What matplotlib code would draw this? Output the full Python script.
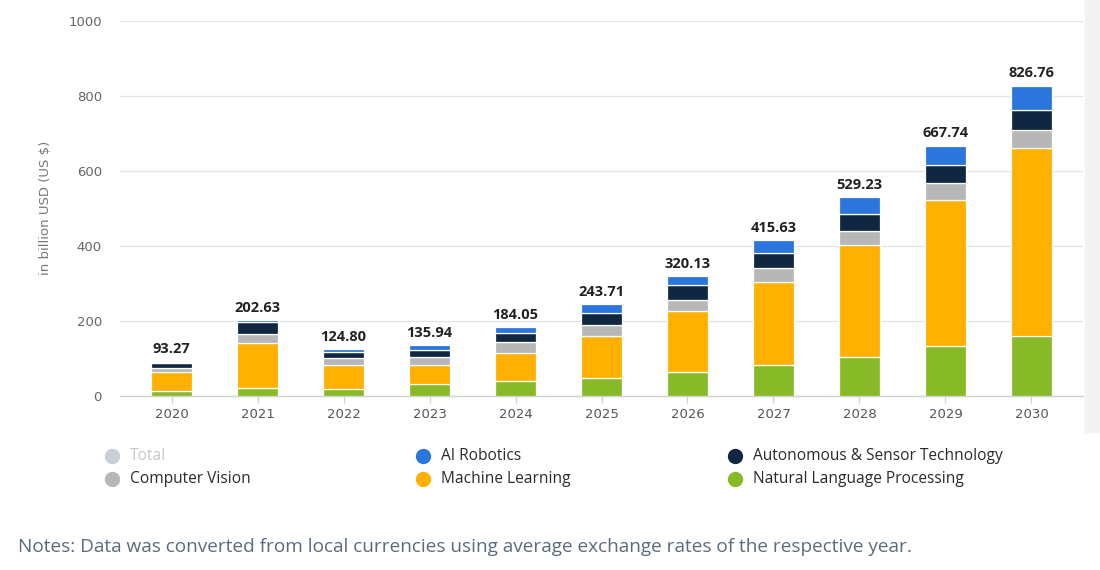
import matplotlib
matplotlib.use("Agg")
import matplotlib.pyplot as plt
from matplotlib.lines import Line2D
from matplotlib.patches import Rectangle
import numpy as np

plt.rcParams['font.family'] = ['Open Sans', 'DejaVu Sans']

years = ["2020", "2021", "2022", "2023", "2024", "2025", "2026", "2027", "2028", "2029", "2030"]
totals = [93.27, 202.63, 124.80, 135.94, 184.05, 243.71, 320.13, 415.63, 529.23, 667.74, 826.76]
nlp = [13, 20.7, 17.7, 31.7, 38.7, 47, 64.7, 83, 104, 132, 159]
machine_learning = [50, 120, 65, 51, 77, 113, 161, 221, 299, 390, 503]
computer_vision = [12, 24, 18, 21, 27, 30, 31, 38, 37, 45, 48]
autonomous = [12, 32.6, 16, 19, 25, 30, 38, 38, 44, 48, 53]
ai_robotics = [0, 6, 9, 14, 16, 24, 25, 35, 47, 52, 64]

series = [
    ("Natural Language Processing", nlp, "#88b927"),
    ("Machine Learning", machine_learning, "#ffb000"),
    ("Computer Vision", computer_vision, "#b7b7b7"),
    ("Autonomous & Sensor Technology", autonomous, "#0f2740"),
    ("AI Robotics", ai_robotics, "#2b76dc"),
]

fig = plt.figure(figsize=(11, 5.7), dpi=100)
fig.patches.append(Rectangle((1085/1100, (570-432)/570), 15/1100, 432/570,
                             transform=fig.transFigure, color="#f3f3f3", zorder=0))
ax = fig.add_axes([120/1100, (570-396)/570, (1083-120)/1100, (396-20.7)/570])

x = np.arange(len(years))
bottom = np.zeros(len(years))
for name, vals, col in series:
    v = np.array(vals, dtype=float)
    ax.bar(x, v, bottom=bottom, width=0.47, color=col, edgecolor="white", linewidth=0.9, zorder=3)
    bottom += v

for xi, t in zip(x, totals):
    ax.annotate(f"{t:.2f}", (xi, t), xytext=(0, 6), textcoords="offset points",
                ha="center", va="baseline", fontsize=10.5, fontweight="bold", color="#222222", zorder=4)

ax.set_xlim(-0.6, 10.6)
ax.set_ylim(0, 1000)
ax.set_yticks([0, 200, 400, 600, 800, 1000])
ax.set_xticks(x)
ax.set_xticklabels(years)
ax.grid(axis="y", color="#e4e4e4", linewidth=0.9, zorder=0)
ax.set_axisbelow(True)
for s in ["top", "right", "left"]:
    ax.spines[s].set_visible(False)
ax.spines["bottom"].set_color("#ccd1d6")
ax.spines["bottom"].set_linewidth(1.0)
ax.tick_params(axis="y", length=0, pad=13, labelsize=9.5, labelcolor="#666666")
ax.tick_params(axis="x", length=5, width=0.9, color="#ccd1d6", pad=4, labelsize=9.5, labelcolor="#555555")
for lab in ax.get_xticklabels() + ax.get_yticklabels():
    lab.set_fontfamily("DejaVu Sans")
ax.set_ylabel("in billion USD (US $)", fontsize=9.5, color="#777777", family="DejaVu Sans")
ax.yaxis.set_label_coords(-68/963, 0.5)

# legend
legend_items = [
    ("Total", "#c9ced4", "#c4c9cf", 112, 456),
    ("AI Robotics", "#2b76dc", "#2a2a2a", 423, 456),
    ("Autonomous & Sensor Technology", "#0f2740", "#2a2a2a", 735, 456),
    ("Computer Vision", "#b7b7b7", "#2a2a2a", 112, 479),
    ("Machine Learning", "#ffb000", "#2a2a2a", 423, 479),
    ("Natural Language Processing", "#88b927", "#2a2a2a", 735, 479),
]
for label, mcol, tcol, px, py in legend_items:
    fx, fy = px / 1100, (570 - py) / 570
    fig.add_artist(Line2D([fx], [fy], marker="o", markersize=10, color=mcol,
                          linestyle="none", transform=fig.transFigure))
    fig.text(fx + 18/1100, fy, label, fontsize=11.2, color=tcol, va="center", ha="left")

fig.text(18/1100, (570-547)/570,
         "Notes: Data was converted from local currencies using average exchange rates of the respective year.",
         fontsize=13.7, color="#5b6b7e", va="center", ha="left")

fig.savefig("out.png", dpi=100)
